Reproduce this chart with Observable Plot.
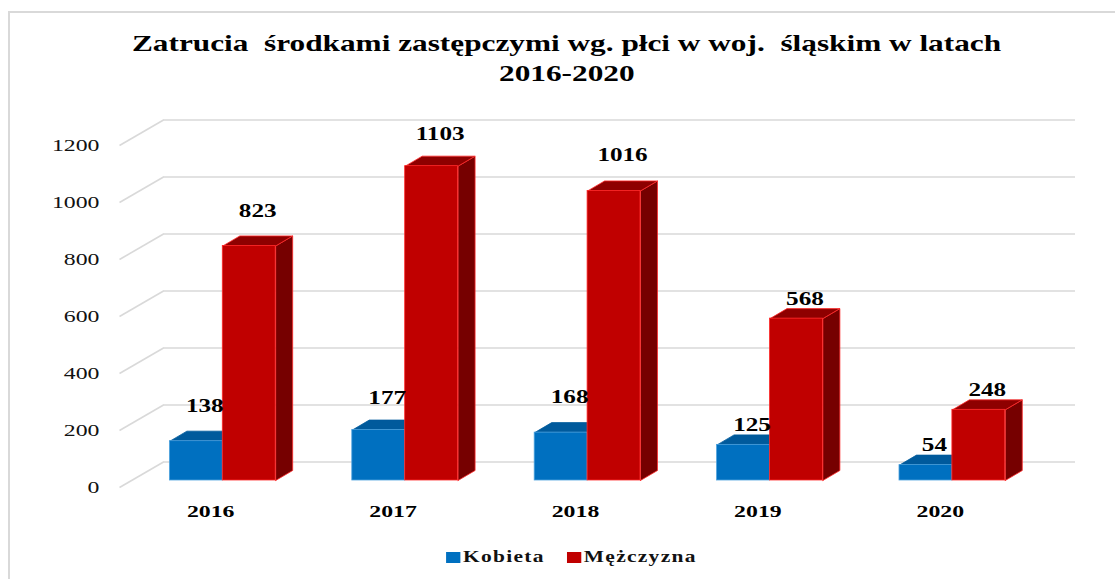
<!DOCTYPE html>
<html><head><meta charset="utf-8">
<script src="https://cdn.jsdelivr.net/npm/d3@7"></script>
<script src="https://cdn.jsdelivr.net/npm/@observablehq/plot@0.6"></script>
<style>
html,body{margin:0;padding:0;background:#fff;width:1115px;height:579px;overflow:hidden;font-family:"Liberation Serif","Times New Roman",serif;}
#frame{position:absolute;left:8px;top:11px;width:1120px;height:600px;border-left:2px solid #d9d9d9;border-top:2px solid #d9d9d9;}
#title{position:absolute;left:0;top:29px;width:1134px;text-align:center;font-weight:bold;font-size:23px;line-height:30px;color:#000;}
#title div span{display:inline-block;transform:scaleX(1.36);white-space:pre;}
#chart{position:absolute;left:0;top:90px;}
#legend{position:absolute;left:0;top:547px;width:1142px;text-align:center;}
#legend .inner{display:inline-flex;align-items:center;transform:scaleX(1.3);font-weight:bold;font-size:16.5px;letter-spacing:1px;color:#111;line-height:20px;}
#legend .sw{display:inline-block;width:11px;height:11px;margin-right:2px;}
#legend .item{display:inline-flex;align-items:center;}
</style></head>
<body>
<div id="frame"></div>
<div id="title"><div><span>Zatrucia  środkami zastępczymi wg. płci w woj.  śląskim w latach</span></div><div><span>2016-2020</span></div></div>
<div id="chart"></div>
<div id="legend"><div class="inner"></div></div>
<script>
const years = ["2016", "2017", "2018", "2019", "2020"];
const kobieta = [138, 177, 168, 125, 54];
const mezczyzna = [823, 1103, 1016, 568, 248];
const yTicks = [0, 200, 400, 600, 800, 1000, 1200];
const seriesNames = ["Kobieta", "Mężczyzna"];
const seriesColors = {
  Kobieta: {front: "#0070C0", top: "#005A9C", side: "#004A80", edge: "#4FA3DE"},
  "Mężczyzna": {front: "#C00000", top: "#8E0000", side: "#760000", edge: "#FF2A2A"}
};

// layout
const W = 1115, H = 440, ML = 132, MR = 71, MT = 48, MB = 50;
const kx = (W - ML - MR) / years.length;   // px per category unit
const ky = (H - MT - MB) / 1200;           // px per value unit
const ux = p => p / kx, uy = p => p / ky;
const depth = {x: ux(17), y: uy(10)};
const slot = {Kobieta: [0.205, 0.495], "Mężczyzna": [0.495, 0.785]};
const STRETCH = 1.36;
// label lift above the bar (px), as placed by the original 3D chart
const liftByYear = {"2016": -35, "2017": -32, "2018": -36, "2019": -20, "2020": -20};

const bars = [];
years.forEach((yr, i) => {
  [["Kobieta", kobieta[i]], ["Mężczyzna", mezczyzna[i]]].forEach(([s, v]) => {
    bars.push({year: yr, series: s, value: v, x1: i + slot[s][0], x2: i + slot[s][1]});
  });
});

function topFace(b) {
  const id = b.year + b.series + "top";
  return [[b.x1, b.value], [b.x2, b.value], [b.x2 + depth.x, b.value + depth.y], [b.x1 + depth.x, b.value + depth.y], [b.x1, b.value]]
    .map(([x, y]) => ({x, y, id}));
}
function sideFace(b) {
  const id = b.year + b.series + "side";
  return [[b.x2, 0], [b.x2 + depth.x, depth.y], [b.x2 + depth.x, b.value + depth.y], [b.x2, b.value], [b.x2, 0]]
    .map(([x, y]) => ({x, y, id}));
}

const blue = bars.filter(d => d.series === "Kobieta");
const red = bars.filter(d => d.series === "Mężczyzna");
const serif = "Liberation Serif, Times New Roman, serif";

const labelMarks = [...new Set(Object.values(liftByYear))].map(lift =>
  Plot.text(bars.filter(d => liftByYear[d.year] === lift), {
    x: d => (d.x1 + d.x2) / 2 + depth.x / 2, y: "value", text: d => String(d.value),
    dy: lift, fontSize: 18.5, fontWeight: "bold", fontFamily: serif, fill: "#000"
  })
);

const marks = [
  Plot.ruleY(yTicks, {y: d => d, x1: 0, x2: years.length, dx: 31, dy: -18.5, stroke: "#d9d9d9", strokeWidth: 1.6}),
  Plot.link(yTicks, {x1: () => ux(-13), y1: d => d - uy(7), x2: () => ux(31), y2: d => d + uy(18.5), stroke: "#d9d9d9", strokeWidth: 1.6}),
  Plot.line(blue.flatMap(topFace), {x: "x", y: "y", z: "id", fill: seriesColors.Kobieta.top, stroke: seriesColors.Kobieta.top, strokeWidth: 0.8, curve: "linear"}),
  Plot.rect(blue, {x1: "x1", x2: "x2", y1: 0, y2: "value", fill: seriesColors.Kobieta.front, stroke: seriesColors.Kobieta.edge, strokeWidth: 0.8}),
  Plot.line(red.flatMap(sideFace), {x: "x", y: "y", z: "id", fill: seriesColors["Mężczyzna"].side, stroke: seriesColors["Mężczyzna"].edge, strokeWidth: 0.8, curve: "linear"}),
  Plot.line(red.flatMap(topFace), {x: "x", y: "y", z: "id", fill: seriesColors["Mężczyzna"].top, stroke: seriesColors["Mężczyzna"].edge, strokeWidth: 0.8, curve: "linear"}),
  Plot.rect(red, {x1: "x1", x2: "x2", y1: 0, y2: "value", fill: seriesColors["Mężczyzna"].front, stroke: seriesColors["Mężczyzna"].edge, strokeWidth: 0.8}),
  ...labelMarks,
  Plot.text(years, {x: (d, i) => i + 0.5, y: () => 0, text: d => d, dx: -13, dy: 31, fontSize: 17.5, fontWeight: "bold", fontFamily: serif, fill: "#000"}),
  Plot.text(yTicks, {x: () => 0, y: d => d, text: d => String(d), textAnchor: "end", dx: -33, dy: 7, fontSize: 17.5, fontFamily: serif, fill: "#111"})
];

const chart = Plot.plot({
  width: W, height: H,
  marginLeft: ML, marginRight: MR, marginTop: MT, marginBottom: MB,
  x: {domain: [0, years.length], axis: null},
  y: {domain: [0, 1200], axis: null},
  style: {background: "transparent", overflow: "visible"},
  marks
});
document.getElementById("chart").appendChild(chart);

// horizontal stretch of all text, as in the reference
chart.querySelectorAll("text").forEach(t => {
  const tr = t.getAttribute("transform") || "";
  const x = t.getAttribute("x");
  if (x !== null && !isNaN(+x)) t.setAttribute("transform", `${tr} translate(${x},0) scale(${STRETCH},1) translate(${-x},0)`);
  else t.setAttribute("transform", `${tr} scale(${STRETCH},1)`);
});

// legend
const inner = document.querySelector("#legend .inner");
seriesNames.forEach((s, k) => {
  const item = document.createElement("span");
  item.className = "item";
  if (k > 0) item.style.marginLeft = "17px";
  const sw = document.createElement("span");
  sw.className = "sw";
  sw.style.background = seriesColors[s].front;
  const lab = document.createElement("span");
  lab.textContent = s;
  item.appendChild(sw); item.appendChild(lab);
  inner.appendChild(item);
});
</script>
</body></html>
